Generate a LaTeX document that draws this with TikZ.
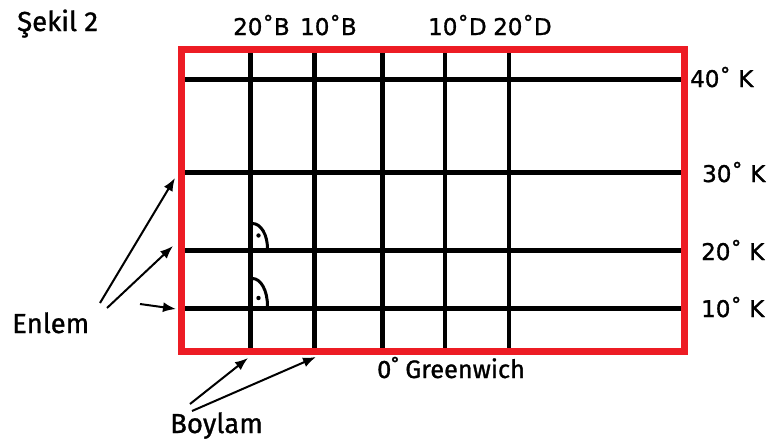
\documentclass[tikz,border=0pt]{standalone}
\usepackage{fontspec}
\setmainfont{Fira Sans}[FakeBold=1.1]
\newfontfamily\degfont{DejaVu Sans}[FakeBold=1.2]
\usetikzlibrary{arrows.meta}
\definecolor{framered}{HTML}{ED1C24}
\tikzset{
  gridline/.style={line width=5pt, black},
  vline/.style={line width=4.6pt, black},
  frame/.style={line width=7pt, framered},
  rightmark/.style={line width=3pt, black},
  pointer/.style={line width=2pt, -{Latex[length=13pt,width=10pt]}},
  lbl/.style={inner sep=0pt, anchor=base west, font=\fontsize{27.5}{32}\selectfont},
  deg/.style={inner sep=0pt, anchor=base west, font=\degfont\fontsize{23}{28}\selectfont},
}
\begin{document}
\begin{tikzpicture}[x=1pt,y=-1pt]
\useasboundingbox (0,0) rectangle (769,439);
% grid
\foreach \yy/\nm in {79/h40,172.5/h30,250.5/h20,308/h10}{
  \coordinate (\nm w) at (181.5,\yy);
  \coordinate (\nm e) at (684,\yy);
  \draw[gridline] (\nm w) -- (\nm e);
}
\foreach \xx/\nm in {250.5/vb20,314.5/vb10,382.5/v0,445/vd10,509/vd20}{
  \coordinate (\nm n) at (\xx,49);
  \coordinate (\nm s) at (\xx,351);
  \draw[vline] (\nm n) -- (\nm s);
}
\draw[frame] (181.5,49) rectangle (684,351);
% right-angle marks
\coordinate (ra1s) at (252.5,223.5);
\coordinate (ra1e) at (267.5,248.5);
\draw[rightmark] (ra1s) .. controls (260.8,223.5) and (267.5,234.7) .. (ra1e);
\fill (258.5,235.5) circle (2.2pt);
\coordinate (ra2s) at (252.5,278.5);
\coordinate (ra2e) at (267.5,306);
\draw[rightmark] (ra2s) .. controls (260.8,278.5) and (267.5,290.5) .. (ra2e);
\fill (258.5,298) circle (2.2pt);
% labels
\node[lbl] (sekil) at (17,31) {Şekil 2};
\node[deg] (b20) at (233,35) {20˚B};
\node[deg] (b10) at (300,35) {10˚B};
\node[deg] (d10) at (428,35) {10˚D};
\node[deg] (d20) at (493,35) {20˚D};
\node[deg] (k40) at (690,87) {40˚ K};
\node[deg] (k30) at (702,182) {30˚ K};
\node[deg] (k20) at (701,260) {20˚ K};
\node[deg] (k10) at (701,317) {10˚ K};
\node[lbl] (enlem) at (12,333) {Enlem};
\node[lbl] (boylam) at (170,433) {Boylam};
\node[lbl, font=\fontsize{25.3}{30}\selectfont] (green) at (377,378) {0˚ Greenwich};
% arrows
\coordinate (e1s) at (100,303); \coordinate (e1t) at (175,178);
\coordinate (e2s) at (107,308); \coordinate (e2t) at (173,246);
\coordinate (e3s) at (140,304); \coordinate (e3t) at (176,309);
\draw[pointer] (e1s) -- (e1t);
\draw[pointer] (e2s) -- (e2t);
\draw[pointer] (e3s) -- (e3t);
\coordinate (b1s) at (190,404); \coordinate (b1t) at (248,358);
\coordinate (b2s) at (192,411); \coordinate (b2t) at (316,357);
\draw[pointer] (b1s) -- (b1t);
\draw[pointer] (b2s) -- (b2t);
\end{tikzpicture}
\end{document}
